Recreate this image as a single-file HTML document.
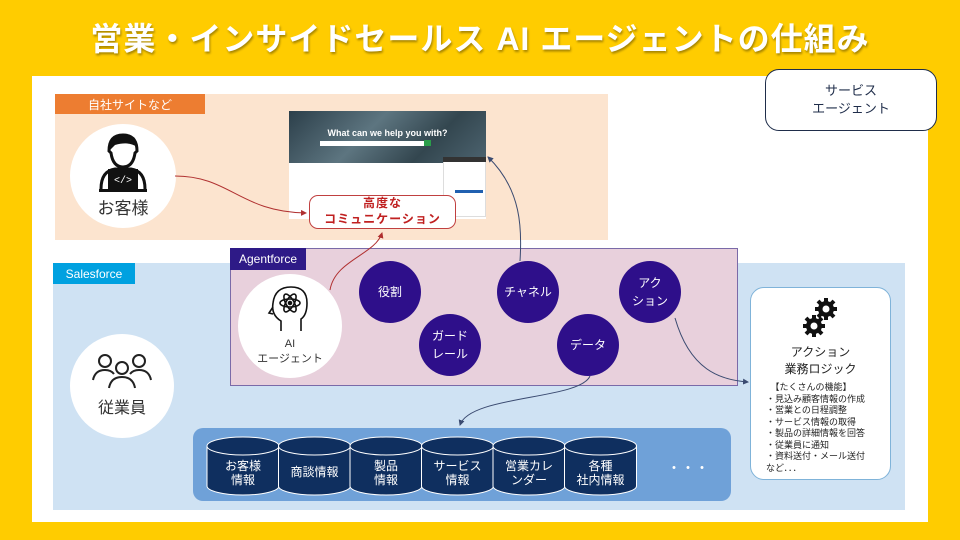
<!DOCTYPE html>
<html><head><meta charset="utf-8"><style>
*{margin:0;padding:0;box-sizing:border-box}
body{width:960px;height:540px;background:#FFCC00;position:relative;overflow:hidden;font-family:"Liberation Sans","Noto Sans CJK JP",sans-serif}
.a{position:absolute}
.c{display:flex;align-items:center;justify-content:center;text-align:center}
.title{left:0;top:14px;width:960px;text-align:center;color:#fff;font-size:32px;font-weight:bold;letter-spacing:1px;text-shadow:1px 2px 2px rgba(0,0,0,.35)}
.circ{border-radius:50%;background:#2E0F8A;color:#fff;font-size:12px;width:62px;height:62px;line-height:1.5}
.wc{border-radius:50%;background:#fff;width:104px;height:104px;flex-direction:column;color:#333}
</style></head><body>
<div class="a title">営業・インサイドセールス AI エージェントの仕組み</div>
<div class="a" style="left:32px;top:76px;width:896px;height:446px;background:#fff"></div>
<div class="a c" style="left:765px;top:69px;width:172px;height:62px;background:#fff;border:1.5px solid #1f2d4a;border-radius:14px;font-size:13px;color:#1f2d4a;line-height:1.4">サービス<br>エージェント</div>

<div class="a" style="left:55px;top:94px;width:553px;height:146px;background:#FCE4CF"></div>
<div class="a c" style="left:55px;top:94px;width:150px;height:20px;background:#ED7D31;color:#fff;font-size:12px">自社サイトなど</div>

<div class="a" style="left:53px;top:263px;width:852px;height:247px;background:#CFE2F3"></div>
<div class="a c" style="left:53px;top:263px;width:82px;height:21px;background:#00A1E0;color:#fff;font-size:12px">Salesforce</div>

<!-- website screenshot -->
<div class="a" style="left:289px;top:111px;width:197px;height:108px;background:#fff"></div>
<div class="a c" style="left:289px;top:111px;width:197px;height:52px;background:linear-gradient(135deg,#2c3f4a,#5d7580 40%,#33464f 70%,#4d6470);color:#fff;font-size:9px;font-weight:bold;align-items:flex-start;padding-top:17px">What can we help you with?</div>
<div class="a" style="left:320px;top:141px;width:110px;height:5px;background:#fff"></div>
<div class="a" style="left:424px;top:140px;width:7px;height:6px;background:#2a9d4a"></div>
<div class="a" style="left:443px;top:157px;width:43px;height:60px;background:#fff;border:1px solid #ddd"></div>
<div class="a" style="left:443px;top:157px;width:43px;height:5px;background:#333"></div>
<div class="a" style="left:455px;top:190px;width:28px;height:3px;background:#2060b0"></div>

<div class="a c" style="left:309px;top:195px;width:147px;height:34px;background:#fff;border:1.5px solid #c04040;border-radius:9px;color:#c02020;font-size:12px;font-weight:bold;line-height:1.3;letter-spacing:1px">高度な<br>コミュニケーション</div>

<!-- customer -->
<div class="a c wc" style="left:70px;top:124px;width:106px;height:104px">
<svg width="56" height="60" viewBox="0 0 56 60"><path d="M14 18 Q14 2 28 2 Q42 2 42 18 L40 20 Q38 34 28 34 Q18 34 16 20 Z" fill="#fff" stroke="#111" stroke-width="3"/><path d="M14 18 Q14 2 28 2 Q42 2 42 14 Q34 8 20 12 Z" fill="#111"/><path d="M6 56 Q6 38 20 36 L36 36 Q50 38 50 56" fill="none" stroke="#111" stroke-width="3"/><rect x="13" y="36" width="30" height="20" fill="#111"/><text x="28" y="50" fill="#fff" font-size="10" text-anchor="middle" font-family="Liberation Mono">&lt;/&gt;</text><rect x="4" y="56" width="48" height="3" fill="#111"/></svg>
<div style="font-size:17px;margin-top:1px">お客様</div></div>

<!-- employees -->
<div class="a c wc" style="left:70px;top:334px">
<svg width="62" height="36" viewBox="0 0 62 36" fill="none" stroke="#222" stroke-width="2"><circle cx="14" cy="7" r="6"/><circle cx="48" cy="7" r="6"/><circle cx="31" cy="14" r="6"/><path d="M2 26 Q4 16 14 16 Q20 16 23 20"/><path d="M60 26 Q58 16 48 16 Q42 16 39 20"/><path d="M18 34 Q20 23 31 23 Q42 23 44 34"/></svg>
<div style="font-size:16px;margin-top:4px">従業員</div></div>

<!-- Agentforce -->
<div class="a" style="left:230px;top:248px;width:508px;height:138px;background:#E8D0DC;border:1.5px solid #7a6aa8"></div>
<div class="a c" style="left:230px;top:248px;width:76px;height:22px;background:#2E1A87;color:#fff;font-size:12px">Agentforce</div>

<div class="a c wc" style="left:238px;top:274px">
<svg width="46" height="48" viewBox="0 0 46 48" fill="none" stroke="#111" stroke-width="1.6"><path d="M14 46 L14 36 Q4 30 6 18 Q8 2 24 2 Q40 2 40 18 Q40 30 34 34 L34 46"/><path d="M6 22 L2 28 L6 29"/><ellipse cx="23" cy="18" rx="10" ry="4"/><ellipse cx="23" cy="18" rx="10" ry="4" transform="rotate(60 23 18)"/><ellipse cx="23" cy="18" rx="10" ry="4" transform="rotate(-60 23 18)"/><circle cx="23" cy="18" r="1.5" fill="#111"/></svg>
<div style="font-size:11px;line-height:1.35;margin-top:4px">AI<br>エージェント</div></div>

<div class="a c circ" style="left:359px;top:261px">役割</div>
<div class="a c circ" style="left:497px;top:261px">チャネル</div>
<div class="a c circ" style="left:619px;top:261px">アク<br>ション</div>
<div class="a c circ" style="left:419px;top:314px">ガード<br>レール</div>
<div class="a c circ" style="left:557px;top:314px">データ</div>

<!-- DB -->
<div class="a" style="left:193px;top:428px;width:538px;height:73px;background:#6FA1D8;border-radius:10px"></div>
<svg class="a" style="left:193px;top:428px" width="538" height="73">
<g fill="#0F2F5F" stroke="#fff" stroke-width="1">
<g><path d="M14 18 L14 58 A36 9 0 0 0 86 58 L86 18"/><ellipse cx="50" cy="18" rx="36" ry="9"/></g>
<g transform="translate(71.5,0)"><path d="M14 18 L14 58 A36 9 0 0 0 86 58 L86 18"/><ellipse cx="50" cy="18" rx="36" ry="9"/></g>
<g transform="translate(143,0)"><path d="M14 18 L14 58 A36 9 0 0 0 86 58 L86 18"/><ellipse cx="50" cy="18" rx="36" ry="9"/></g>
<g transform="translate(214.5,0)"><path d="M14 18 L14 58 A36 9 0 0 0 86 58 L86 18"/><ellipse cx="50" cy="18" rx="36" ry="9"/></g>
<g transform="translate(286,0)"><path d="M14 18 L14 58 A36 9 0 0 0 86 58 L86 18"/><ellipse cx="50" cy="18" rx="36" ry="9"/></g>
<g transform="translate(357.5,0)"><path d="M14 18 L14 58 A36 9 0 0 0 86 58 L86 18"/><ellipse cx="50" cy="18" rx="36" ry="9"/></g>
</g>
<g fill="#fff" font-size="12" text-anchor="middle" font-family="Liberation Sans,Noto Sans CJK JP,sans-serif">
<text x="50" y="42">お客様</text><text x="50" y="56">情報</text>
<text x="121.5" y="48">商談情報</text>
<text x="193" y="42">製品</text><text x="193" y="56">情報</text>
<text x="264.5" y="42">サービス</text><text x="264.5" y="56">情報</text>
<text x="336" y="42">営業カレ</text><text x="336" y="56">ンダー</text>
<text x="407.5" y="42">各種</text><text x="407.5" y="56">社内情報</text>
<text x="495" y="45" font-size="14">・・・</text>
</g></svg>

<!-- action box -->
<div class="a" style="left:750px;top:287px;width:141px;height:193px;background:#fff;border:1px solid #7fb3d9;border-radius:14px"></div>
<svg class="a" style="left:800px;top:296px" width="40" height="42" viewBox="0 0 40 42">
<g fill="#111"><circle cx="26" cy="13" r="8"/><circle cx="14" cy="30" r="8"/>
<g stroke="#111" stroke-width="4"><path d="M26 2V24M15 13H37M18 5L34 21M34 5L18 21"/><path d="M14 19V41M3 30H25M6 22L22 38M22 22L6 38"/></g></g>
<circle cx="26" cy="13" r="3.5" fill="#fff"/><circle cx="14" cy="30" r="3.5" fill="#fff"/></svg>
<div class="a" style="left:750px;top:344px;width:141px;text-align:center;font-size:12px;line-height:1.4;color:#222">アクション<br>業務ロジック</div>
<div class="a" style="left:766px;top:382px;font-size:9px;line-height:1.28;color:#222">　【たくさんの機能】<br>・見込み顧客情報の作成<br>・営業との日程調整<br>・サービス情報の取得<br>・製品の詳細情報を回答<br>・従業員に通知<br>・資料送付・メール送付<br>など．．．</div>

<!-- connectors -->
<svg class="a" style="left:0;top:0" width="960" height="540" fill="none" stroke-width="1">
<defs><marker id="ar" markerWidth="6" markerHeight="6" refX="5" refY="3" orient="auto"><path d="M0 0L6 3L0 6z" fill="#b03030"/></marker>
<marker id="ab" markerWidth="6" markerHeight="6" refX="5" refY="3" orient="auto"><path d="M0 0L6 3L0 6z" fill="#3a4a70"/></marker></defs>
<path d="M175 176 C230 176 240 212 306 213" stroke="#b03030" marker-end="url(#ar)"/>
<path d="M330 290 C335 260 375 255 382 233" stroke="#b03030" marker-end="url(#ar)"/>
<path d="M520 261 C522 230 522 190 488 157" stroke="#3a4a70" marker-end="url(#ab)"/>
<path d="M590 376 C580 400 470 395 460 425" stroke="#3a4a70" marker-end="url(#ab)"/>
<path d="M675 318 C690 370 720 380 748 382" stroke="#3a4a70" marker-end="url(#ab)"/>
</svg>
</body></html>
